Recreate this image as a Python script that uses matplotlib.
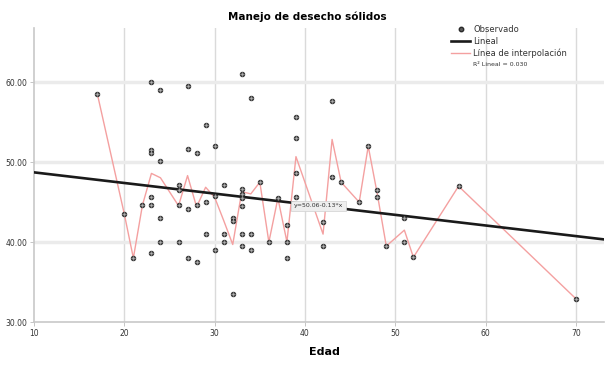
import numpy as np
import matplotlib
matplotlib.use("Agg")
import matplotlib.pyplot as plt
from matplotlib.lines import Line2D

# Data
edad = [17, 20, 21, 22,
        23, 23, 23, 23, 23, 23,
        24, 24, 24, 24,
        26, 26, 26, 26,
        27, 27, 27, 27,
        28, 28, 28,
        29, 29, 29,
        30, 30, 30,
        31, 31, 31,
        32, 32, 32,
        33, 33, 33, 33, 33, 33, 33,
        34, 34, 34,
        35, 36, 37,
        38, 38, 38,
        39, 39, 39, 39,
        42, 42,
        43, 43,
        44, 46, 47,
        48, 48,
        49,
        51, 51,
        52, 57, 70]
manejo = [58.6, 43.5, 38.0, 44.6,
          60.1, 51.5, 51.2, 45.6, 44.6, 38.6,
          59.1, 50.1, 43.0, 40.0,
          47.1, 46.5, 44.6, 40.0,
          59.6, 51.6, 44.1, 38.0,
          51.1, 44.6, 37.5,
          54.6, 45.0, 41.0,
          52.0, 45.8, 39.0,
          47.1, 41.0, 40.0,
          43.0, 42.6, 33.5,
          61.1, 46.6, 46.0, 45.5, 44.5, 41.0, 39.5,
          58.1, 41.0, 39.0,
          47.5, 40.0, 45.5,
          42.1, 40.0, 38.0,
          55.6, 53.0, 48.6, 45.6,
          42.5, 39.5,
          57.6, 48.1,
          47.5, 45.0, 52.0,
          46.5, 45.6,
          39.5,
          43.0, 40.0,
          38.1, 47.0, 32.9]

fit_intercept = 50.06
fit_slope = -0.133
r2_text = "R² Lineal = 0.030"
eq_text = "y=50.06-0.13*x"

x_ticks = [10, 20, 30, 40, 50, 60, 70]
y_ticks = [30, 40, 50, 60]
y_ticklabels = ["30.00", "40.00", "50.00", "60.00"]

title = "Manejo de desecho sólidos"
xlabel = "Edad"

plt.rcParams['font.family'] = ['DejaVu Sans']

fig = plt.figure(figsize=(6.14, 3.65), dpi=100)
ax = fig.add_axes([34/614, 1-322/365, (604-34)/614, (322-28)/365])

x = np.array(edad, dtype=float)
y = np.array(manejo, dtype=float)

# interpolation line through means at each x
ux = np.unique(x)
means = np.array([y[x == v].mean() for v in ux])

ax.set_xlim(10, 73.1)
ax.set_ylim(30, 66.8)

# grid
for v in [20, 30, 40, 50, 60, 70]:
    ax.axvline(v, color='#dadada', lw=1.0, zorder=0)
for v in [40, 50, 60]:
    ax.axhline(v, color='#ebebeb', lw=2.5, zorder=0)

ax.plot(ux, means, color='#f4a0a0', lw=1.0, zorder=2)
xs = np.array([10, 73.1])
ax.plot(xs, fit_intercept + fit_slope * xs, color='#1a1a1a', lw=1.9, zorder=3)
ax.scatter(x, y, s=11, facecolor='#5a5a5a', edgecolor='#2a2a2a', lw=0.6, zorder=4)
ax.scatter(x, y, s=8, marker='+', color='#b0b0b0', lw=0.5, zorder=5)

# equation label
xl = 41.5
ax.text(xl, fit_intercept + fit_slope * xl, eq_text, fontsize=4.5, color='#333333',
        ha='center', va='center', zorder=6,
        bbox=dict(boxstyle='square,pad=0.4', fc='#eeeeee', ec='#d0d0d0', lw=0.5))

ax.set_xticks(x_ticks)
ax.set_xticklabels([str(t) for t in x_ticks], fontsize=5.5, color='#333333')
ax.set_yticks(y_ticks)
ax.set_yticklabels(y_ticklabels, fontsize=5.5, color='#333333')
ax.tick_params(axis='both', length=3, width=0.6, color='#bbbbbb', pad=2)

for s in ['top', 'right']:
    ax.spines[s].set_visible(False)
for s in ['left', 'bottom']:
    ax.spines[s].set_color('#c8c8c8')
    ax.spines[s].set_linewidth(1.2)

fig.text(0.5, 1-17/365, title, fontsize=7.5, fontweight='bold', ha='center', va='center')
fig.text(324/614, 1-352/365, xlabel, fontsize=8, fontweight='bold', ha='center', va='center')

handles = [
    Line2D([], [], ls='none', marker='o', ms=3.2, mfc='#5a5a5a', mec='#2a2a2a'),
    Line2D([], [], color='#1a1a1a', lw=1.9),
    Line2D([], [], color='#f4a0a0', lw=1.0),
    Line2D([], [], ls='none'),
]
labels = ["Observado", "Lineal", "Línea de interpolación", r2_text]
leg = ax.legend(handles, labels, loc='upper left', frameon=False, fontsize=6,
                handlelength=2.2, handletextpad=0.4, labelspacing=0.3, borderaxespad=0)
leg.set_bbox_to_anchor((448/614, 1-22/365), transform=fig.transFigure)
texts = leg.get_texts()
texts[3].set_fontsize(4.5)
for t in texts:
    t.set_color('#333333')

fig.savefig("out.png", dpi=100)
